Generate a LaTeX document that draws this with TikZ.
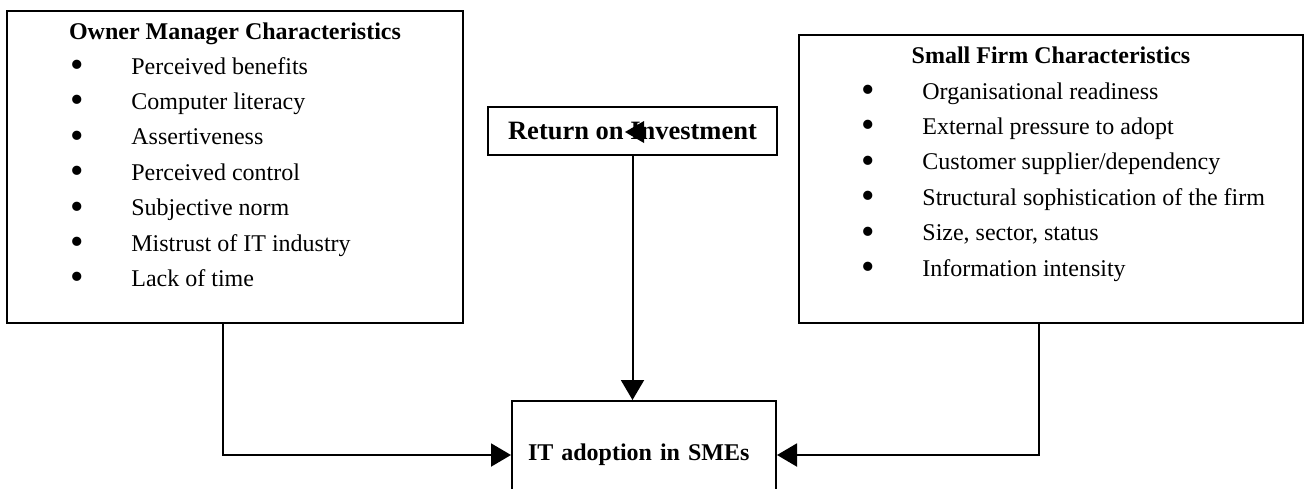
\documentclass[tikz,border=0pt]{standalone}
\usepackage{fontspec}
\setmainfont{Liberation Serif}
\usepackage{graphicx}
\usepackage{tikz}
\usetikzlibrary{positioning,arrows.meta}

\newcommand{\blt}{\raisebox{-1.7pt}{\scalebox{1.6}{\textbullet}}}

\tikzset{
  box/.style={draw, line width=1pt, inner sep=0pt},
  head/.style={font=\fontsize{12}{14}\selectfont\bfseries, anchor=base, inner sep=0pt},
  entry/.style={font=\fontsize{12}{14}\selectfont, anchor=base west, inner sep=0pt},
  link/.style={line width=1pt, -{Triangle[length=10pt,width=11.5pt]}},
}

\begin{document}
\begin{tikzpicture}[x=0.5pt,y=-0.5pt]
    \useasboundingbox (0,0) rectangle (1306,488);

    % Boxes
    \node[box, minimum width=228pt, minimum height=156pt] (owner) at (235,167) {};
    \node[box, minimum width=252pt, minimum height=144pt] (firm) at (1051,179) {};
    \node[box, minimum width=144.5pt, minimum height=24pt,
          font=\fontsize{13.25}{15}\selectfont\bfseries] (roi) at (632.5,131) {Return on Investment\hspace{5pt}};
    \node[box, text width=116pt, inner xsep=8pt, align=left, minimum height=54pt,
          font=\fontsize{12}{14}\selectfont\bfseries] (adopt) at (644,455) {IT adoption in SMEs};

    % Headings
    \node[head] (owner-head) at ([yshift=-14.5pt]owner.north) {Owner Manager Characteristics};
    \node[head] (firm-head) at ([yshift=-14.5pt]firm.north) {Small Firm Characteristics};

    % Bullet lists
    \foreach \txt [count=\i] in {Perceived benefits, Computer literacy, Assertiveness,
        Perceived control, Subjective norm, Mistrust of IT industry, Lack of time}
      \node[entry] (owner-\i) at ([xshift=62.5pt, yshift={-32pt-(\i-1)*17.7pt}]owner.north west)
        {\llap{\makebox[30.6pt][l]{\blt}}\txt};
    \foreach \txt [count=\i] in {Organisational readiness, External pressure to adopt,
        Customer supplier/dependency, Structural sophistication of the firm,
        {Size, sector, status}, Information intensity}
      \node[entry] (firm-\i) at ([xshift=62pt, yshift={-32.5pt-(\i-1)*17.7pt}]firm.north west)
        {\llap{\makebox[30.6pt][l]{\blt}}\txt};

    % Arrows
    \draw[link] ([xshift=-6pt]owner.south) |- (adopt.west);
    \draw[link] ([xshift=-6pt]firm.south) |- (adopt.east);
    \draw[link] (roi.south) -- (roi.south |- adopt.north);

    % stray head over the heading
    \fill (644,121) -- (625,132) -- (644,143) -- cycle;
\end{tikzpicture}
\end{document}
